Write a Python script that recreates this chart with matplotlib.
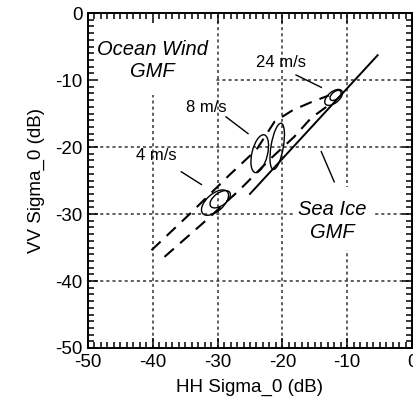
import matplotlib
matplotlib.use("Agg")
import matplotlib.pyplot as plt
from matplotlib.patches import Ellipse, Rectangle
from matplotlib.ticker import MultipleLocator

plt.rcParams['font.family'] = ['Liberation Sans', 'DejaVu Sans']
plt.rcParams['axes.unicode_minus'] = False

# ---- data (dB) ----
sea_ice_hh = [-25.0, -5.3]
sea_ice_vv = [-27.0, -6.3]

ocean_upper_hh = [-40.2, -34.3, -28.2, -24.0, -21.2, -18.4, -15.3, -12.8]
ocean_upper_vv = [-35.4, -30.0, -24.2, -20.4, -16.2, -14.5, -13.2, -12.3]

ocean_lower_hh = [-38.2, -32.3, -26.6, -22.0, -18.2, -15.6, -13.2]
ocean_lower_vv = [-36.4, -31.4, -26.4, -21.9, -18.5, -15.7, -14.0]

# wind-speed clusters: centre hh, centre vv, width, height, angle
clusters_hh = [-30.4, -29.6, -23.5, -20.8, -12.1, -11.8]
clusters_vv = [-28.3, -27.8, -21.0, -19.9, -12.6, -12.3]
clusters_w = [5.0, 3.6, 5.8, 7.0, 3.2, 2.0]
clusters_h = [2.6, 1.9, 2.4, 1.9, 1.7, 1.1]
clusters_ang = [40, 35, 76, 80, 38, 38]

labels = ["4 m/s", "8 m/s", "24 m/s"]
labels_hh = [-39.4, -31.7, -20.2]
labels_vv = [-21.3, -14.1, -7.4]
leader_hh = [(-35.6, -32.5), (-28.7, -25.3), (-17.9, -14.0)]
leader_vv = [(-23.7, -25.6), (-15.5, -18.0), (-9.25, -11.1)]

ice_label = "Sea Ice\nGMF"
ice_label_pos = (-12.3, -31.0)
ice_leader_hh = (-14.0, -12.0)
ice_leader_vv = (-20.7, -25.2)

ocean_label = "Ocean Wind\nGMF"
ocean_label_pos = (-40.0, -7.1)

major_ticks = [-50, -40, -30, -20, -10, 0]
grid_vals = [-40, -30, -20, -10]

# ---- figure ----
fig = plt.figure(figsize=(4.13, 4.03), dpi=100)
ax = fig.add_axes([88/413, 1 - 348/403, 324/413, 335/403])
ax.set_xlim(-50, 0)
ax.set_ylim(-50, 0)

gkw = dict(color='#333333', lw=1.1, linestyle=(0, (2, 2)), zorder=1)
for g in grid_vals:
    ax.axvline(g, **gkw)
    ax.axhline(g, **gkw)

# white boxes behind the GMF labels
ax.add_patch(Rectangle((-50, -12.2), 19.65, 12.2, facecolor='white',
                       edgecolor='none', zorder=1.2))
ax.add_patch(Rectangle((-18.4, -35.3), 12.5, 9.3, facecolor='white',
                       edgecolor='none', zorder=1.2))

ax.plot(sea_ice_hh, sea_ice_vv, color='black', lw=1.4, zorder=2)
ax.plot(ocean_upper_hh, ocean_upper_vv, color='black', lw=1.5,
        dashes=(6, 4), zorder=2)
ax.plot(ocean_lower_hh, ocean_lower_vv, color='black', lw=1.5,
        dashes=(6, 4), zorder=2)

for cx, cy, w, h, a in zip(clusters_hh, clusters_vv, clusters_w, clusters_h, clusters_ang):
    ax.add_patch(Ellipse((cx, cy), w, h, angle=a, fill=False,
                         edgecolor='black', lw=1.0, zorder=2))

for t, x, y, lx, ly in zip(labels, labels_hh, labels_vv, leader_hh, leader_vv):
    ax.text(x, y, t, ha='center', va='center', fontsize=12, zorder=3)
    ax.plot(lx, ly, color='black', lw=1.0, zorder=2)

ax.text(*ice_label_pos, ice_label, ha='center', va='center', fontsize=14.5,
        style='italic', linespacing=1.25, zorder=3)
ax.plot(ice_leader_hh, ice_leader_vv, color='black', lw=1.0, zorder=2)
ax.text(*ocean_label_pos, ocean_label, ha='center', va='center', fontsize=14.5,
        style='italic', linespacing=1.25, zorder=3)

ax.set_xticks(major_ticks)
ax.set_yticks(major_ticks)
ax.xaxis.set_minor_locator(MultipleLocator(1))
ax.yaxis.set_minor_locator(MultipleLocator(1))
ax.tick_params(which='both', direction='in', top=True, right=True,
               labelsize=13.5, width=1.1, colors='black')
ax.tick_params(which='major', length=7, pad=4)
ax.tick_params(which='minor', length=4.5)
for s in ax.spines.values():
    s.set_linewidth(1.4)

ax.set_xlabel("HH Sigma_0 (dB)", fontsize=13.5, labelpad=6)
ax.set_ylabel("VV Sigma_0 (dB)", fontsize=13.5, labelpad=7)

fig.savefig("out.png", dpi=100)
